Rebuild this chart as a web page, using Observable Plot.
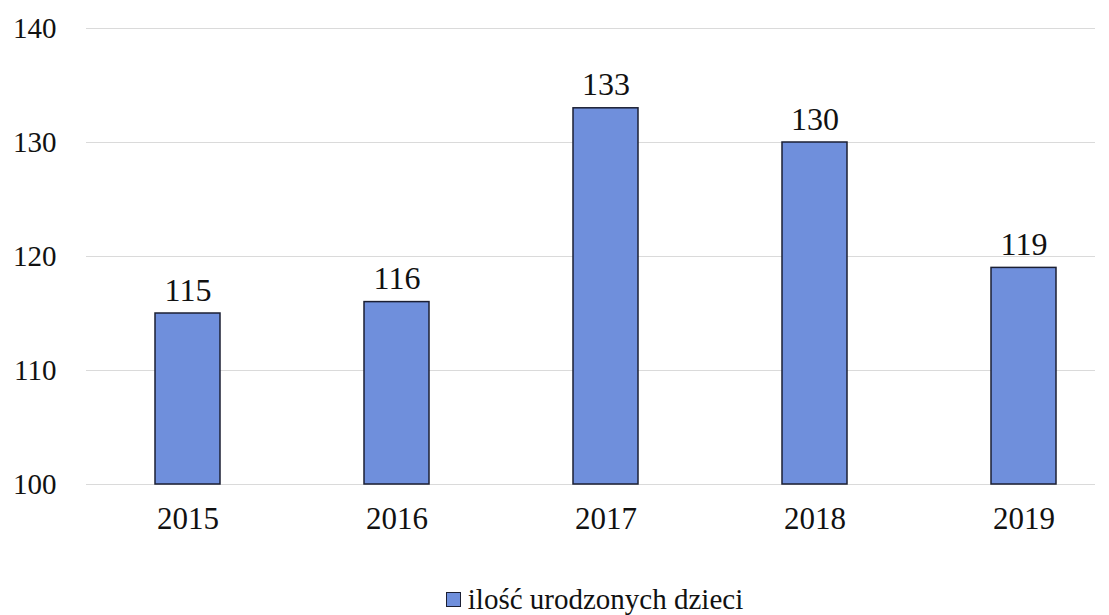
<!DOCTYPE html>
<html><head><meta charset="utf-8">
<script src="https://cdn.jsdelivr.net/npm/d3@7"></script>
<script src="https://cdn.jsdelivr.net/npm/@observablehq/plot@0.6"></script>
<style>
body{margin:0;background:#fff;font-family:'Liberation Serif','Times New Roman',serif;position:relative;height:615px;overflow:hidden}
#legend{position:absolute;top:584px;left:0;right:0;height:30px;line-height:30px;display:flex;justify-content:center;align-items:center;font-size:29px;color:#111;padding-left:80px;box-sizing:border-box;font-family:'Liberation Serif','Times New Roman',serif;}
#legend .sw{width:15px;height:15px;background:#6f8fdc;border:1.5px solid #1b1f33;margin-right:7px;box-sizing:border-box}
svg text{font-family:'Liberation Serif','Times New Roman',serif !important;}
</style></head><body>
<div id="chart"></div>
<div id="legend"><span class="sw"></span><span id="lt"></span></div>
<script>
const years = ["2015","2016","2017","2018","2019"];
const births = [115,116,133,130,119];
const yTicks = [100,110,120,130,140];
const seriesName = "ilość urodzonych dzieci";
const data = years.map((y,i)=>({year:y, value:births[i]}));
const ff = "'Liberation Serif', 'Times New Roman', serif";
const chart = Plot.plot({
  width:1109, height:570,
  marginLeft:86, marginRight:14, marginTop:28, marginBottom:86,
  style:{fontFamily:ff, background:"#fff", color:"#111"},
  x:{domain:years, range:[83,1128], paddingInner:0.69, paddingOuter:0.345, label:null},
  y:{domain:[100,140], ticks:yTicks, label:null, grid:false},
  marks:[
    Plot.ruleY(yTicks,{stroke:"#dadada", strokeWidth:1}),
    Plot.axisY({ticks:yTicks, tickSize:0, tickPadding:30, fontSize:29, fontFamily:ff, label:null}),
    Plot.axisX({tickSize:0, tickPadding:22, fontSize:31, fontFamily:ff, label:null}),
    Plot.rectY(data,{x:"year", y1:100, y2:"value", fill:"#6f8fdc", stroke:"#1b1f33", strokeWidth:1.5}),
    Plot.text(data,{x:"year", y:"value", text:d=>String(d.value), lineAnchor:"bottom", dy:-13, fontSize:32, fontFamily:ff, fill:"#111"})
  ]
});
document.getElementById("chart").append(chart);
document.getElementById("lt").textContent = seriesName;
</script>
</body></html>
